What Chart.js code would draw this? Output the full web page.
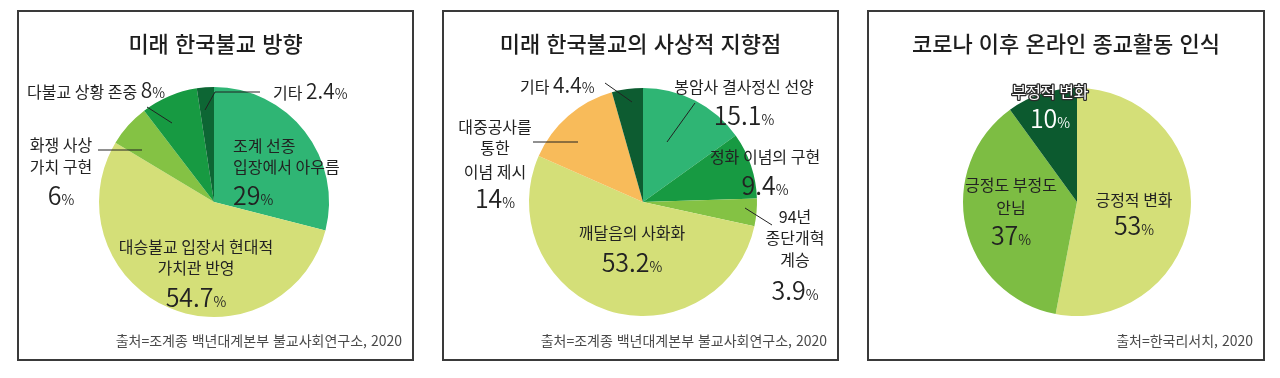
<!DOCTYPE html>
<html lang="ko">
<head>
<meta charset="utf-8">
<title>미래 한국불교 인식 조사</title>
<script src="https://cdn.jsdelivr.net/npm/chart.js@4.4.1/dist/chart.umd.min.js"></script>
<style>
  html, body { margin: 0; padding: 0; background: #fff; }
  body { width: 1280px; height: 378px; position: relative; overflow: hidden; font-family: "Noto Sans CJK KR", sans-serif; }
  .panel { position: absolute; top: 10px; height: 351px; }
  .panel canvas { position: absolute; left: 0; top: 0; }
  .frame { position: absolute; inset: 0; border: 2px solid #3a3a3a; box-sizing: border-box; pointer-events: none; }
  .title { position: absolute; left: 0; right: 0; top: 21px; text-align: center; font-size: 22px; line-height: 22px; font-weight: 500; color: #1e1e1e; white-space: nowrap; }
  .source { position: absolute; right: 12px; top: 323px; font-size: 14px; line-height: 14px; color: #4a4a4a; white-space: nowrap; }
</style>
</head>
<body>

<div class="panel" style="left:17px;width:397px">
  <canvas id="chart-direction" width="397" height="351"></canvas>
  <div class="title">미래 한국불교 방향</div>
  <div class="source">출처=조계종 백년대계본부 불교사회연구소, 2020</div>
  <div class="frame"></div>
</div>

<div class="panel" style="left:442px;width:397px">
  <canvas id="chart-thought" width="397" height="351"></canvas>
  <div class="title">미래 한국불교의 사상적 지향점</div>
  <div class="source">출처=조계종 백년대계본부 불교사회연구소, 2020</div>
  <div class="frame"></div>
</div>

<div class="panel" style="left:867px;width:398px">
  <canvas id="chart-online" width="398" height="351"></canvas>
  <div class="title">코로나 이후 온라인 종교활동 인식</div>
  <div class="source">출처=한국리서치, 2020</div>
  <div class="frame"></div>
</div>

<script>
const directionLabels = [['조계 선종', '입장에서 아우름'], ['대승불교 입장서 현대적', '가치관 반영'], ['화쟁 사상', '가치 구현'], ['다불교 상황 존중'], ['기타']];
const directionValues = [29, 54.7, 6, 8, 2.4];

const thoughtLabels = [['봉암사 결사정신 선양'], ['정화 이념의 구현'], ['94년', '종단개혁', '계승'], ['깨달음의 사화화'], ['대중공사를', '통한', '이념 제시'], ['기타']];
const thoughtValues = [15.1, 9.4, 3.9, 53.2, 14, 4.4];

const onlineLabels = [['긍정적 변화'], ['긍정도 부정도', '안님'], ['부정적 변화']];
const onlineValues = [53, 37, 10];

// --- colours ---
const directionColors = ['#2fb574', '#d4df78', '#84c244', '#179a42', '#0d6634'];
const thoughtColors = ['#2fb574', '#179a42', '#84c244', '#d4df78', '#f8bb5a', '#0d5c31'];
const onlineColors = ['#d4df78', '#7dbd43', '#0c5a2f'];

const FONT_NAME = '400 16px "Noto Sans CJK KR", sans-serif';
const FONT_NUM = '350 25px "Noto Sans CJK KR", sans-serif';
const FONT_NUM_SMALL = '350 21px "Noto Sans CJK KR", sans-serif';
const FONT_PCT = '350 14px "Noto Sans CJK KR", sans-serif';
const INK = '#222';

// label placement, offsets from the pie centre (dx, baseline dy)
const directionLayout = [
  { dx: 19, align: 'left', lines: [-50, -29], value: 3 },
  { dx: -18, align: 'center', lines: [51, 72], value: 105 },
  { dx: -153, align: 'center', lines: [-51, -29], value: 3, leader: [[-116, -52], [-72, -52]] },
  { dx: -187, align: 'left', inline: -104, leader: [[-67, -95], [-42, -79]] },
  { dx: 59, align: 'left', inline: -103, leader: [[46, -110], [1, -110], [-9, -92]] },
];
const thoughtLayout = [
  { dx: 101, align: 'center', lines: [-109], value: -77, leader: [[52, -99], [24, -60]] },
  { dx: 122, align: 'center', lines: [-39], value: -7 },
  { dx: 152, align: 'center', lines: [21, 42, 64], value: 98, leader: [[102, 6], [129, 23]] },
  { dx: -11, align: 'center', lines: [37], value: 70 },
  { dx: -148, align: 'center', lines: [-69, -48, -24], value: 6, leader: [[-110, -60], [-65, -60]] },
  { dx: -123, align: 'left', inline: -109, leader: [[-38, -119], [-11, -100]] },
];
const onlineLayout = [
  { dx: 57, align: 'center', lines: [4], value: 33 },
  { dx: -66, align: 'center', lines: [-11, 12], value: 43 },
  { dx: -27, align: 'center', lines: [-104], value: -74, light: true },
];

function drawRuns(ctx, runs, x, y, align, light) {
  let width = 0;
  runs.forEach((r) => {
    ctx.font = r.font;
    r.w = ctx.measureText(r.text).width;
    width += r.w;
  });
  let cur = align === 'center' ? x - width / 2 : x;
  runs.forEach((r) => {
    ctx.font = r.font;
    if (light && r.outline) {
      ctx.lineWidth = 2.5;
      ctx.strokeStyle = '#2a2a2a';
      ctx.lineJoin = 'round';
      ctx.strokeText(r.text, cur, y);
    }
    ctx.fillStyle = light ? '#fff' : INK;
    ctx.fillText(r.text, cur, y);
    cur += r.w;
  });
}

function valueRuns(v, small) {
  return [
    { text: String(v), font: small ? FONT_NUM_SMALL : FONT_NUM },
    { text: '%', font: FONT_PCT },
  ];
}

const sliceText = {
  id: 'sliceText',
  afterDatasetsDraw(chart, args, opts) {
    const { ctx } = chart;
    const arc = chart.getDatasetMeta(0).data[0];
    const cx = arc.x;
    const cy = arc.y;
    const values = chart.data.datasets[0].data;
    const names = chart.data.labels;

    ctx.save();
    ctx.textBaseline = 'alphabetic';
    opts.layout.forEach((item) => {
      if (!item.leader) return;
      ctx.beginPath();
      item.leader.forEach(([lx, ly], k) => {
        if (k === 0) ctx.moveTo(cx + lx, cy + ly);
        else ctx.lineTo(cx + lx, cy + ly);
      });
      ctx.strokeStyle = INK;
      ctx.lineWidth = 1;
      ctx.stroke();
    });

    opts.layout.forEach((item, i) => {
      const x = cx + item.dx;
      if (item.inline !== undefined) {
        const runs = [{ text: names[i].join(' ') + ' ', font: FONT_NAME }].concat(valueRuns(values[i], true));
        drawRuns(ctx, runs, x, cy + item.inline, item.align, false);
        return;
      }
      item.lines.forEach((dy, k) => {
        drawRuns(ctx, [{ text: names[i][k], font: FONT_NAME, outline: true }], x, cy + dy, item.align, item.light);
      });
      drawRuns(ctx, valueRuns(values[i], false), x, cy + item.value, item.align, item.light);
    });
    ctx.restore();
  },
};

function makePie(id, labels, values, colors, layout, padding) {
  return new Chart(document.getElementById(id), {
    type: 'pie',
    data: {
      labels,
      datasets: [{ data: values, backgroundColor: colors, borderWidth: 0 }],
    },
    options: {
      responsive: false,
      animation: false,
      events: [],
      layout: { padding },
      plugins: {
        legend: { display: false },
        tooltip: { enabled: false },
        sliceText: { layout },
      },
    },
    plugins: [sliceText],
  });
}

makePie('chart-direction', directionLabels, directionValues, directionColors, directionLayout,
  { left: 82, top: 77, right: 85, bottom: 44 });
makePie('chart-thought', thoughtLabels, thoughtValues, thoughtColors, thoughtLayout,
  { left: 87, top: 78, right: 82, bottom: 45 });
makePie('chart-online', onlineLabels, onlineValues, onlineColors, onlineLayout,
  { left: 96, top: 78, right: 74, bottom: 45 });
</script>
</body>
</html>
